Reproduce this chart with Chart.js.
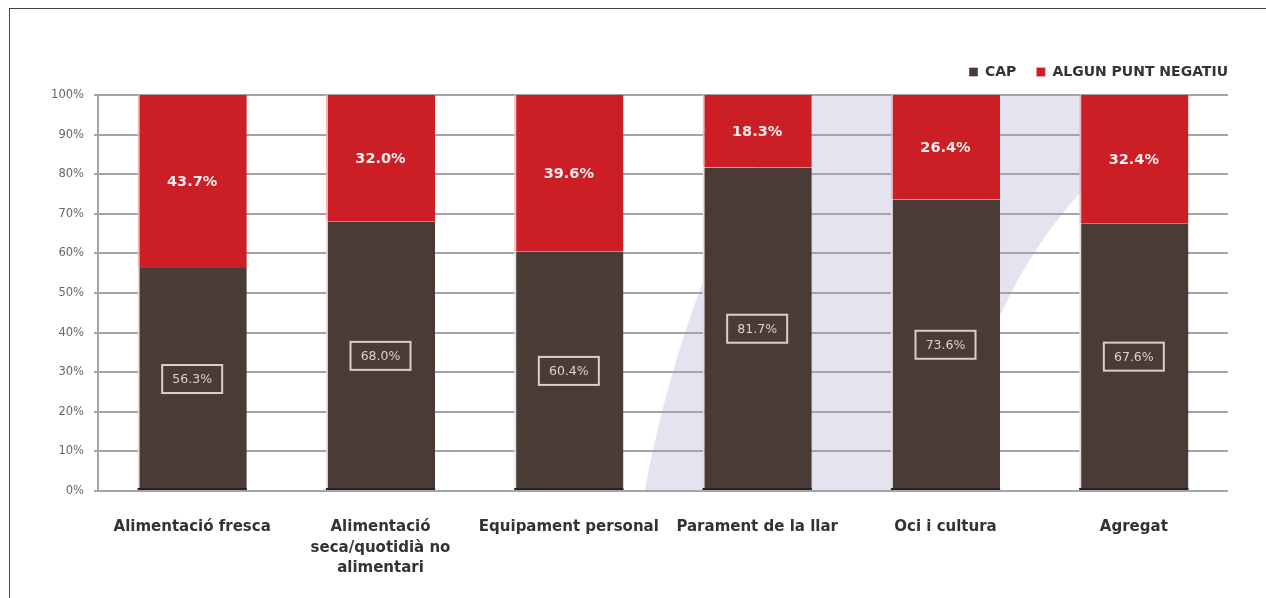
<!DOCTYPE html>
<html>
<head>
<meta charset="utf-8">
<script src="https://cdn.jsdelivr.net/npm/chart.js@4.4.1/dist/chart.umd.min.js"></script>
<style>
  html,body{margin:0;padding:0;background:#fff;}
  #wrap{position:relative;width:1266px;height:598px;overflow:hidden;}
  #frame{position:absolute;left:9px;top:8px;width:1400px;height:800px;border:1.5px solid #444;box-sizing:border-box;}
  canvas{position:absolute;left:0;top:0;}
</style>
</head>
<body>
<div id="wrap">
  <div id="frame"></div>
  <canvas id="c" width="1266" height="598"></canvas>
</div>
<script>
const categories = [
  "Alimentació fresca",
  ["Alimentació", "seca/quotidià no", "alimentari"],
  "Equipament personal",
  "Parament de la llar",
  "Oci i cultura",
  "Agregat"
];
const seriesNames = ["CAP", "ALGUN PUNT NEGATIU"];
const capValues = [56.3, 68.0, 60.4, 81.7, 73.6, 67.6];
const negatiuValues = [43.7, 32.0, 39.6, 18.3, 26.4, 32.4];
const yTicks = [0, 10, 20, 30, 40, 50, 60, 70, 80, 90, 100];

const BROWN = '#4b3b37';
const RED = '#cc1e25';
const FONT = '"DejaVu Sans", Verdana, sans-serif';

const LEGEND_PAD = 20;

const legendTweak = {
  id: 'legendTweak',
  beforeLayout(chart) {
    const lg = chart.legend;
    if (lg && !lg._tweaked) {
      const f = lg.fit.bind(lg);
      lg.fit = function () { f(); this.height += 6; };
      lg._tweaked = true;
    }
  },
  afterLayout(chart) {
    const lg = chart.legend;
    if (lg) { lg.left += LEGEND_PAD; lg.right += LEGEND_PAD; }
  }
};

const swooshPlugin = {
  id: 'swoosh',
  beforeDraw(chart) {
    const {ctx, chartArea: a} = chart;
    const W = a.right - a.left, H = a.bottom - a.top;
    const px = f => a.left + f * W;
    const py = f => a.top + f * H;
    ctx.save();
    ctx.beginPath();
    ctx.rect(a.left, a.top, W, H);
    ctx.clip();
    ctx.fillStyle = '#e4e3ef';
    ctx.beginPath();
    ctx.moveTo(px(0.484), a.bottom);
    ctx.bezierCurveTo(px(0.51), py(0.6), px(0.56), py(0.25), px(0.62), a.top);
    ctx.lineTo(px(0.97), a.top);
    ctx.bezierCurveTo(px(0.86), py(0.22), px(0.79), py(0.45), px(0.75), a.bottom);
    ctx.closePath();
    ctx.fill();
    ctx.restore();
  }
};

const labelPlugin = {
  id: 'barLabels',
  afterDatasetsDraw(chart) {
    const ctx = chart.ctx;
    ctx.save();
    ctx.textAlign = 'center';
    ctx.textBaseline = 'middle';
    chart.data.datasets.forEach((ds, di) => {
      const meta = chart.getDatasetMeta(di);
      meta.data.forEach((el, i) => {
        const p = el.getProps(['x', 'y', 'base', 'width'], true);
        const cy = (p.y + p.base) / 2;
        const txt = ds.data[i].toFixed(1) + '%';
        if (di === 0) {
          ctx.fillStyle = '#2a211f';
          ctx.fillRect(p.x - p.width / 2, p.base - 2, p.width, 2);
          ctx.font = '12.5px ' + FONT;
          ctx.strokeStyle = '#d6d0ce';
          ctx.lineWidth = 2;
          ctx.strokeRect(p.x - 30, cy - 14, 60, 28);
          ctx.fillStyle = '#d8d2d0';
          ctx.fillText(txt, p.x, cy + 1);
        } else {
          ctx.font = 'bold 14.5px ' + FONT;
          ctx.fillStyle = '#f6eeee';
          ctx.fillText(txt, p.x, cy + 1);
        }
      });
    });
    ctx.restore();
  }
};

new Chart(document.getElementById('c'), {
  type: 'bar',
  data: {
    labels: categories,
    datasets: [
      {label: seriesNames[0], data: capValues, backgroundColor: BROWN,
       borderColor: '#e9dede', borderWidth: {left: 2, top: 0, right: 0, bottom: 0}, borderSkipped: false},
      {label: seriesNames[1], data: negatiuValues, backgroundColor: RED,
       borderColor: '#f2b9ba', borderWidth: {left: 2, top: 0, right: 0, bottom: 0}, borderSkipped: false}
    ]
  },
  options: {
    responsive: false,
    animation: false,
    devicePixelRatio: 1,
    layout: {padding: {top: 45, right: 38, left: 0, bottom: 0}},
    datasets: {bar: {categoryPercentage: 1, barPercentage: 0.58}},
    plugins: {
      legend: {
        position: 'top',
        align: 'end',
        labels: {
          boxWidth: 9, boxHeight: 9, padding: LEGEND_PAD,
          color: '#333',
          font: {family: FONT, size: 14, weight: 'bold'}
        }
      },
      tooltip: {enabled: false}
    },
    scales: {
      x: {
        stacked: true,
        grid: {display: false, drawTicks: false},
        border: {display: false},
        ticks: {
          color: '#333', padding: 26, maxRotation: 0, autoSkip: false,
          font: {family: FONT, size: 15, weight: 'bold', lineHeight: 1.37}
        },
        afterFit(s) { s.height = 107; }
      },
      y: {
        stacked: true, min: 0, max: 100,
        afterBuildTicks(s) { s.ticks = yTicks.map(v => ({value: v})); },
        grid: {color: '#a3a3aa', lineWidth: 2, tickLength: 4},
        border: {display: true, color: '#a3a3aa', width: 2},
        ticks: {
          color: '#666', padding: 10,
          font: {family: FONT, size: 11.5},
          callback: v => v + '%'
        },
        afterFit(s) { s.width = 98; }
      }
    }
  },
  plugins: [legendTweak, swooshPlugin, labelPlugin]
});
</script>
</body>
</html>
